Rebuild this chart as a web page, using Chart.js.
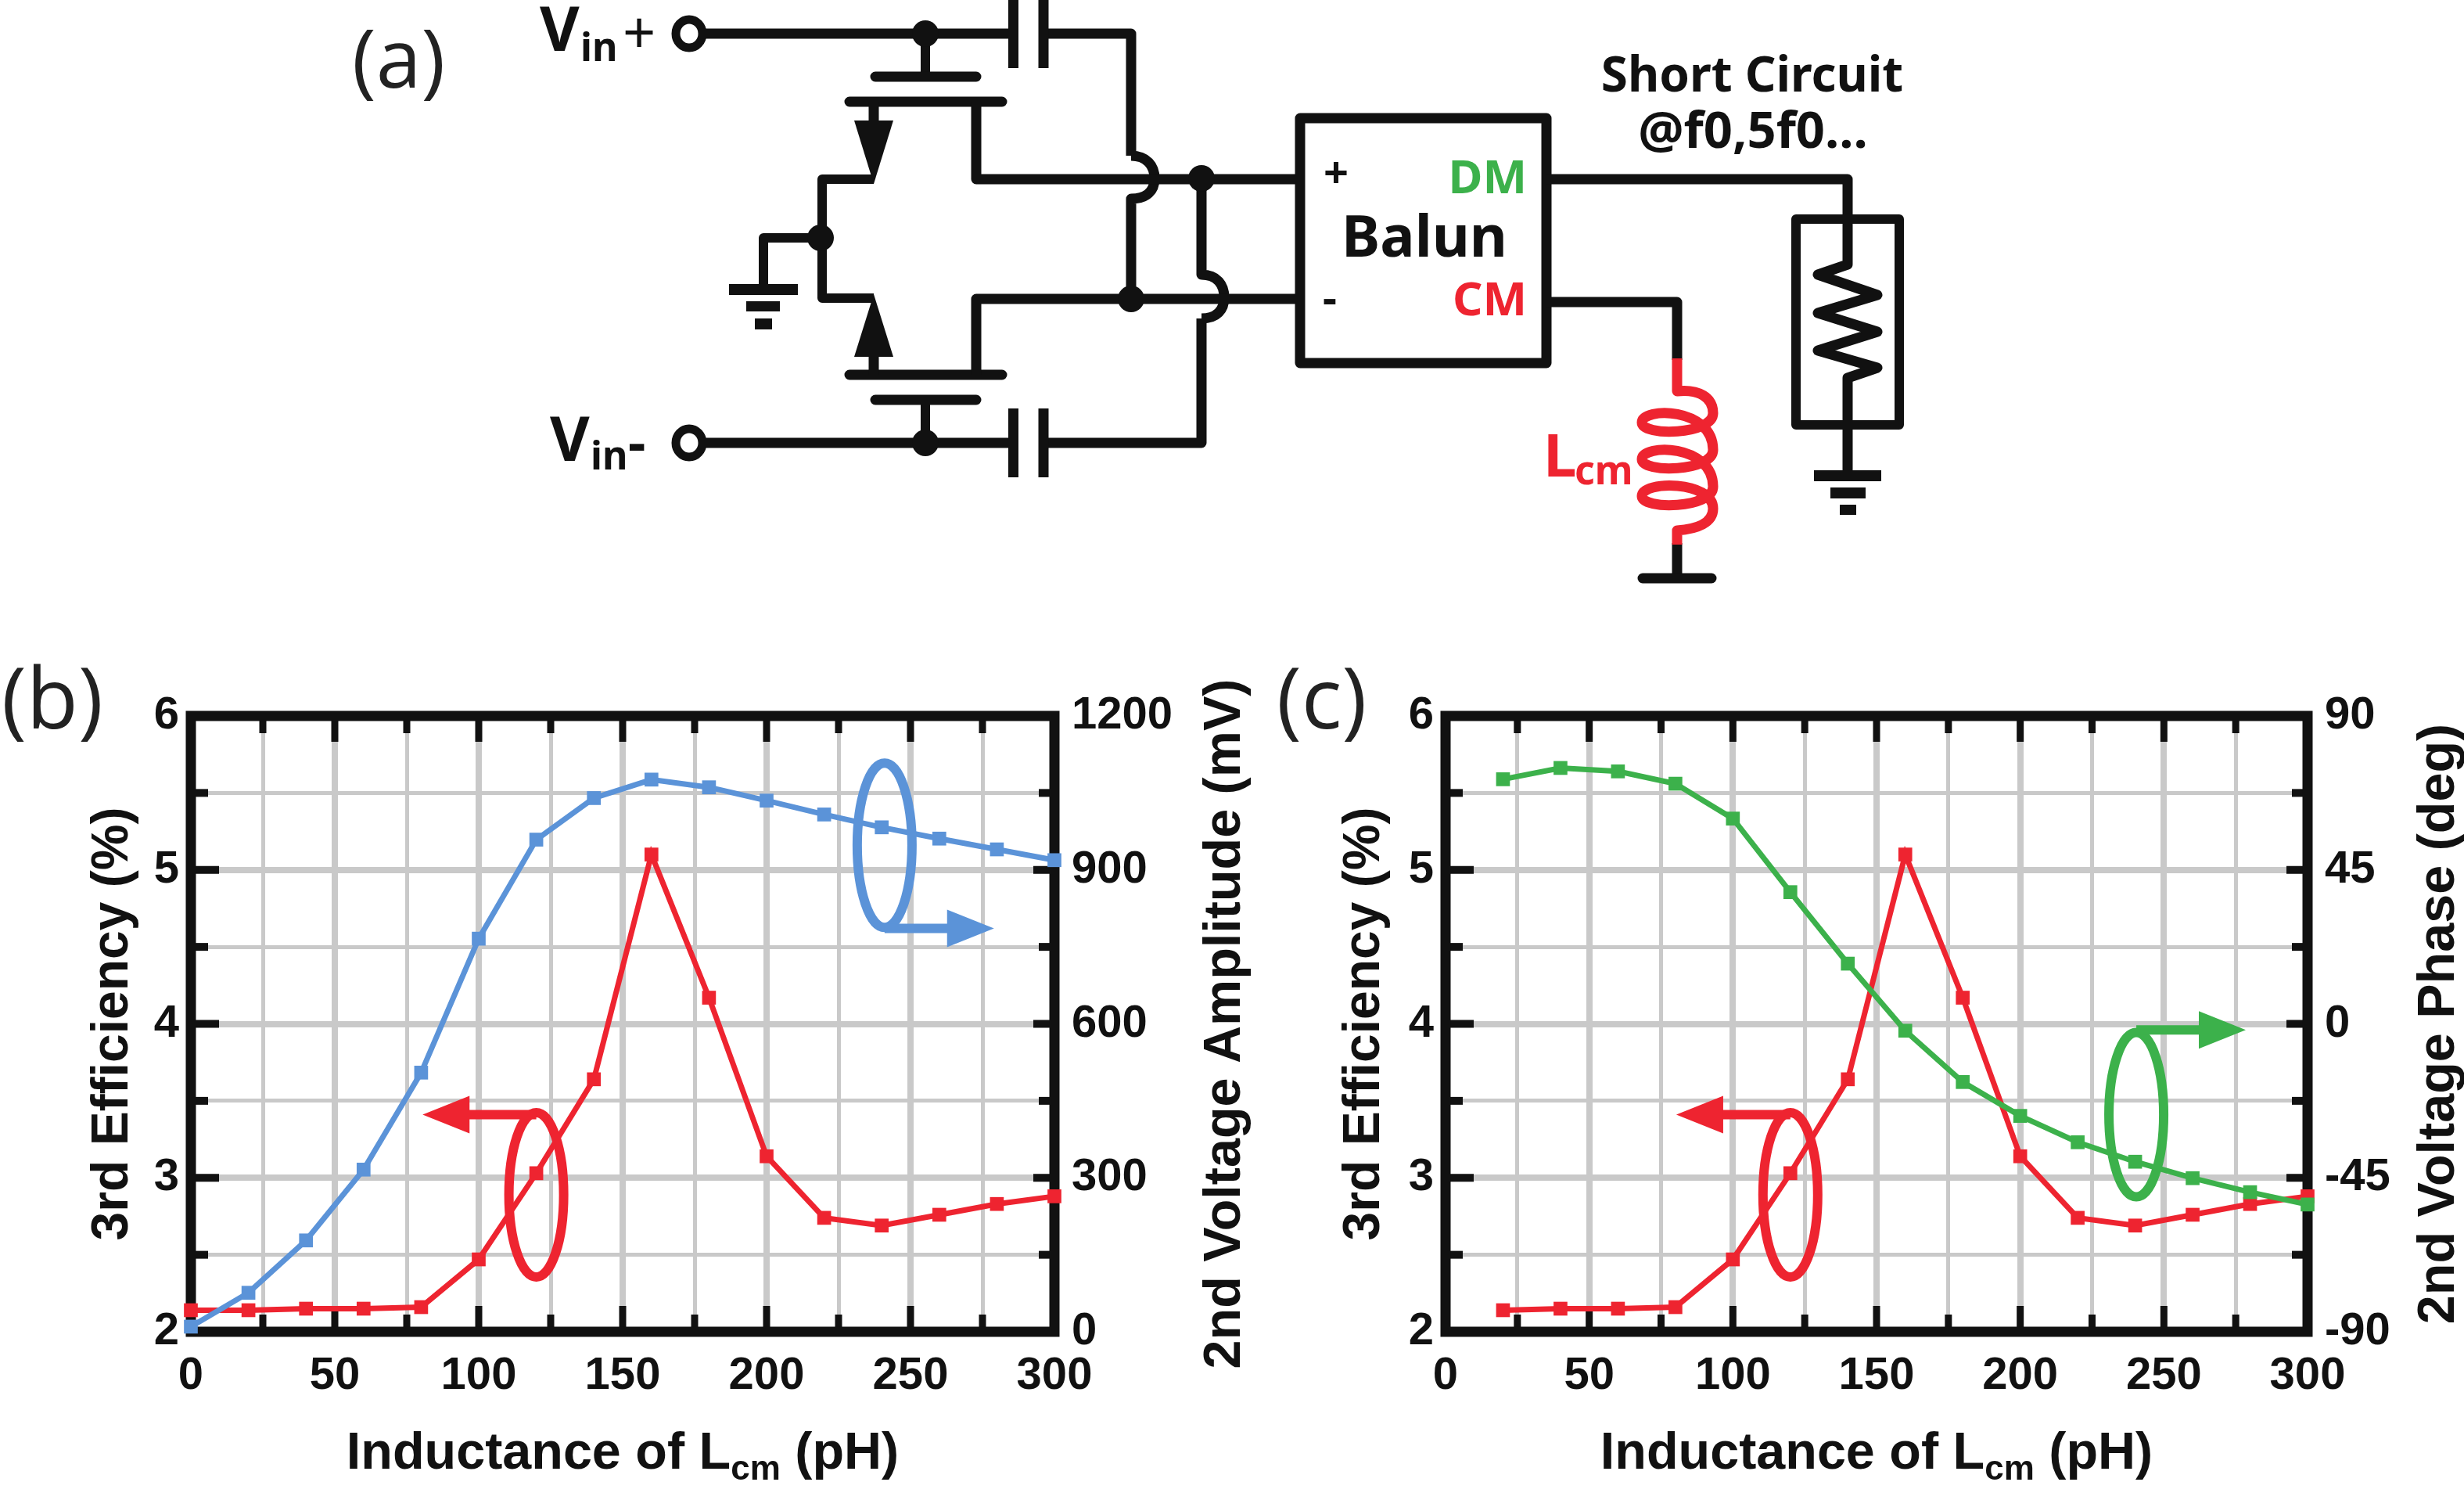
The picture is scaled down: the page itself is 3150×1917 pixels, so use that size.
<!DOCTYPE html>
<html>
<head>
<meta charset="utf-8">
<title>Lcm sweep</title>
<script src="https://cdn.jsdelivr.net/npm/chart.js@4"></script>
<style>
  html, body { margin: 0; padding: 0; background: #fff; }
  body { position: relative; width: 3150px; height: 1917px; overflow: hidden; }
  canvas { position: absolute; top: 840px; }
  #circuit { position: absolute; left: 0; top: 0; }
  #circuit text { font-family: "Noto Sans", sans-serif; font-weight: 700; }
  .panel { position: absolute; font: 400 104px "Open Sans", sans-serif; color: #222; line-height: 1; }
  .panel.big { font-size: 108px; }
</style>
</head>
<body>

<!-- (a) schematic -->
<svg id="circuit" width="3150" height="800" viewBox="0 0 3150 800">
  <g fill="none" stroke="#111" stroke-width="13" stroke-linejoin="round">
    <!-- inputs -->
    <ellipse cx="881" cy="43" rx="17" ry="18" stroke-width="11"/>
    <ellipse cx="881" cy="566" rx="17" ry="18" stroke-width="11"/>
    <path d="M898 43H1295M1334 43H1446V199"/>
    <path d="M898 566H1295M1334 566H1536V407"/>
    <path d="M1295.5 0V87M1334 0V87M1295.5 522V610M1334 522V610"/>
    <!-- cross-coupled wires with jumps -->
    <path d="M1446 199C1466 199 1476 212 1476 228C1476 244 1466 254 1446 254V382"/>
    <path d="M1536 228V351C1556 351 1565 364 1565 380C1565 396 1556 407 1536 407"/>
    <!-- devices -->
    <path d="M1183 43V98M1183 511V566" stroke-width="12"/>
    <path d="M1119 98H1248M1119 511H1248M1086 130H1281M1086 479H1281" stroke-linecap="round"/>
    <path d="M1117 130V160M1117 456V479"/>
    <path d="M1117 229H1051V381H1117" stroke-width="12"/>
    <path d="M1248 130V229H1660M1248 479V382H1660"/>
    <path d="M1049 304H976V364" stroke-width="12"/>
    <!-- balun and outputs -->
    <rect x="1662" y="151" width="315" height="313"/>
    <path d="M1977 229H2362V338L2324 351L2400 377L2324 400L2400 424L2324 448L2400 470L2362 483V608"/>
    <rect x="2296" y="280" width="132" height="263" stroke-width="12"/>
    <path d="M1977 386H2144V460"/>
    <path d="M2144 694V739"/>
    <path d="M2100 739H2188" stroke-linecap="round"/>
    <path stroke="#ee2430" d="M2144 458V500C2172 497 2190 508 2190 528C2190 556 2099 558 2099 540C2099 520 2190 520 2190 575C2190 603 2099 605 2099 587C2099 567 2190 567 2190 622C2190 650 2099 652 2099 634C2099 614 2190 614 2190 650C2190 668 2170 676 2144 678V696"/>
  </g>
  <g fill="#111" stroke="none">
    <ellipse cx="1183" cy="43" rx="17" ry="17"/>
    <ellipse cx="1183" cy="566" rx="17" ry="17"/>
    <ellipse cx="1536" cy="228" rx="17" ry="17"/>
    <ellipse cx="1446" cy="382" rx="17" ry="17"/>
    <ellipse cx="1049" cy="304" rx="17" ry="17"/>
    <path d="M1092 154H1142L1117 235Z"/>
    <path d="M1092 456H1142L1117 376Z"/>
    <path d="M932 363H1020V377H932ZM954 385H997V398H954ZM965 407H987V421H965Z"/>
    <path d="M2319 601H2405V615H2319ZM2340 623H2385V637H2340ZM2352 645H2373V658H2352Z"/>
  </g>
  <text x="690" y="65" font-size="78" fill="#111">V</text>
  <text x="742" y="78" font-size="50" fill="#111">in</text>
  <text x="796" y="68" font-size="74" fill="#111" style="font-weight:400">+</text>
  <text x="703" y="589" font-size="78" fill="#111">V</text>
  <text x="755" y="600" font-size="50" fill="#111">in</text>
  <text x="803" y="590" font-size="70" fill="#111">-</text>
  <text x="1821" y="328" font-size="74" fill="#111" text-anchor="middle">Balun</text>
  <text x="1708" y="240" font-size="56" fill="#111" text-anchor="middle">+</text>
  <text x="1700" y="400" font-size="56" fill="#111" text-anchor="middle">-</text>
  <text x="1952" y="247" font-size="60" fill="#3cb14b" text-anchor="end">DM</text>
  <text x="1952" y="403" font-size="60" fill="#ee2430" text-anchor="end">CM</text>
  <text x="2240" y="117" font-size="62" fill="#111" text-anchor="middle">Short Circuit</text>
  <text x="2241" y="189" font-size="65" fill="#111" text-anchor="middle">@f0,5f0...</text>
  <text x="1973" y="609" font-size="76" fill="#ee2430">L</text>
  <text x="2013" y="619" font-size="50" fill="#ee2430">cm</text>
</svg>

<div class="panel" style="left:450px;top:20px">(a)</div>
<div class="panel big" style="left:2px;top:836px">(b)</div>
<div class="panel big" style="left:1632px;top:836px">(c)</div>

<canvas id="chartB" width="1600" height="1077" style="left:0"></canvas>
<canvas id="chartC" width="1550" height="1077" style="left:1600px"></canvas>

<script>
// values
const inductance = [0, 20, 40, 60, 80, 100, 120, 140, 160, 180, 200, 220, 240, 260, 280, 300];
const inductanceC = inductance.slice(1);
const efficiency = [2.14, 2.14, 2.15, 2.15, 2.16, 2.47, 3.03, 3.64, 5.10, 4.17, 3.14, 2.74, 2.69, 2.76, 2.83, 2.88];
const amplitude = [10, 76, 178, 316, 505, 766, 959, 1040, 1076, 1061, 1035, 1008, 983, 961, 940, 919];
const phase = [71.5, 74.8, 73.8, 70.2, 60.0, 38.5, 17.6, -2, -17, -26.9, -34.6, -40.3, -45.1, -49.2, -52.8];
const amplitudeTicks = [0, 300, 600, 900, 1200];
const phaseTicks = [-90, -45, 0, 45, 90];

const RED = '#ee2430';
const BLUE = '#5b93d8';
const GREEN = '#3cb14b';
const INK = '#111';
const FONT = '"Liberation Sans", Arial, sans-serif';

function toPoints(xs, ys) {
  return xs.map((x, i) => ({ x, y: ys[i] }));
}

function lineSet(data, color, axis) {
  return {
    data,
    yAxisID: axis,
    borderColor: color,
    backgroundColor: color,
    borderWidth: 7,
    pointStyle: 'rect',
    pointRadius: 12.5,
    pointBorderWidth: 0,
    tension: 0,
    clip: false,
  };
}

// inward ticks, frame, ring + arrow callouts and the titles Chart.js can't set
// (right title reads bottom-to-top, x title has a subscript)
const figureDecor = {
  id: 'figureDecor',
  beforeDatasetsDraw(chart) {
    const { ctx, chartArea: a, scales } = chart;
    ctx.save();
    ctx.fillStyle = INK;
    scales.x.ticks.forEach((t) => {
      const px = scales.x.getPixelForValue(t.value);
      const len = t.value % 50 === 0 ? 33 : 22;
      ctx.fillRect(px - 4.5, a.top, 9, len);
      ctx.fillRect(px - 4.5, a.bottom - len, 9, len);
    });
    scales.y.ticks.forEach((t) => {
      const py = scales.y.getPixelForValue(t.value);
      const major = Number.isInteger(t.value);
      ctx.fillRect(a.left, py - 5, major ? 36 : 22, 10);
      ctx.fillRect(a.right - (major ? 27 : 20), py - 5, major ? 27 : 20, 10);
    });
    ctx.strokeStyle = INK;
    ctx.lineWidth = 13;
    ctx.strokeRect(a.left, a.top, a.right - a.left, a.bottom - a.top);
    ctx.restore();
  },
  afterDatasetsDraw(chart, args, opts) {
    const { ctx, chartArea: a, scales } = chart;
    ctx.save();
    opts.callouts.forEach((c) => {
      const cx = scales.x.getPixelForValue(c.x);
      const cy = scales.y.getPixelForValue(c.y);
      const ay = scales.y.getPixelForValue(c.arrowY);
      const tip = scales.x.getPixelForValue(c.arrowTo);
      const dir = tip < cx ? -1 : 1;
      ctx.strokeStyle = c.color;
      ctx.fillStyle = c.color;
      ctx.lineWidth = 12;
      ctx.beginPath();
      ctx.ellipse(cx, cy, 35, 105, 0, 0, Math.PI * 2);
      ctx.stroke();
      ctx.beginPath();
      ctx.moveTo(cx, ay);
      ctx.lineTo(tip - dir * 58, ay);
      ctx.stroke();
      ctx.beginPath();
      ctx.moveTo(tip, ay);
      ctx.lineTo(tip - dir * 60, ay - 24);
      ctx.lineTo(tip - dir * 60, ay + 24);
      ctx.closePath();
      ctx.fill();
    });

    ctx.fillStyle = INK;
    ctx.textBaseline = 'alphabetic';
    ctx.textAlign = 'left';
    // x title
    const main = `bold ${opts.titleSize}px ${FONT}`;
    const sub = `bold ${Math.round(opts.titleSize * 0.66)}px ${FONT}`;
    const parts = [['Inductance of L', main, 0], ['cm', sub, 14], [' (pH)', main, 0]];
    const widths = parts.map((p) => { ctx.font = p[1]; return ctx.measureText(p[0]).width; });
    let x = (a.left + a.right) / 2 - widths.reduce((s, w) => s + w, 0) / 2;
    parts.forEach((p, i) => {
      ctx.font = p[1];
      ctx.fillText(p[0], x, 1037 + p[2]);
      x += widths[i];
    });
    // right title
    ctx.translate(opts.rightTitleX, (a.top + a.bottom) / 2);
    ctx.rotate(-Math.PI / 2);
    ctx.textAlign = 'center';
    ctx.font = main;
    ctx.fillText(opts.rightTitle, 0, 0);
    ctx.restore();
  },
};

function panelChart(id, cfg) {
  const gridWidth = (major) => (c) => (major(c.tick.value) ? 8 : 5);
  return new Chart(document.getElementById(id), {
    type: 'line',
    data: { datasets: cfg.datasets },
    plugins: [figureDecor],
    options: {
      responsive: false,
      animation: false,
      layout: { autoPadding: false, padding: { top: 75, left: 0, right: 0, bottom: 0 } },
      plugins: {
        legend: { display: false },
        tooltip: { enabled: false },
        figureDecor: {
          callouts: cfg.callouts,
          rightTitle: cfg.rightTitle,
          rightTitleX: cfg.rightTitleX,
          titleSize: 66.5,
        },
      },
      scales: {
        x: {
          type: 'linear',
          min: 0,
          max: 300,
          afterFit: (s) => { s.height = 215; },
          border: { display: false },
          grid: { color: '#c9c9c9', lineWidth: gridWidth((v) => v % 50 === 0), drawTicks: false },
          ticks: {
            stepSize: 25,
            autoSkip: false,
            maxRotation: 0,
            padding: 22,
            color: INK,
            font: { family: FONT, size: 58, weight: 'bold' },
            callback: (v) => (v % 50 === 0 ? String(v) : ''),
          },
        },
        y: {
          position: 'left',
          min: 2,
          max: 6,
          afterFit: (s) => { s.width = cfg.leftWidth; },
          border: { display: false },
          grid: { color: '#c9c9c9', lineWidth: gridWidth((v) => Number.isInteger(v)), drawTicks: false },
          title: {
            display: true,
            text: '3rd Efficiency (%)',
            color: INK,
            font: { family: FONT, size: 66, weight: 'bold' },
            padding: { top: cfg.leftTitlePad },
          },
          ticks: {
            stepSize: 0.5,
            autoSkip: false,
            padding: 15,
            color: INK,
            font: { family: FONT, size: 58, weight: 'bold' },
            callback: (v) => (Number.isInteger(v) ? String(v) : ''),
          },
        },
        right: {
          position: 'right',
          min: cfg.rightTicks[0],
          max: cfg.rightTicks[cfg.rightTicks.length - 1],
          afterFit: (s) => { s.width = cfg.rightWidth; },
          afterBuildTicks: (s) => { s.ticks = cfg.rightTicks.map((value) => ({ value })); },
          border: { display: false },
          grid: { display: false, drawTicks: false },
          ticks: {
            autoSkip: false,
            padding: 22,
            color: INK,
            font: { family: FONT, size: 58, weight: 'bold' },
            callback: (v) => String(v),
          },
        },
      },
    },
  });
}

panelChart('chartB', {
  leftWidth: 244,
  rightWidth: 252,
  leftTitlePad: 105,
  rightTicks: amplitudeTicks,
  rightTitle: '2nd Voltage Amplitude (mV)',
  rightTitleX: 1585,
  datasets: [
    lineSet(toPoints(inductance, amplitude), BLUE, 'right'),
    lineSet(toPoints(inductance, efficiency), RED, 'y'),
  ],
  callouts: [
    { x: 120, y: 2.89, arrowY: 3.41, arrowTo: 80.5, color: RED },
    { x: 241, y: 5.16, arrowY: 4.62, arrowTo: 279, color: BLUE },
  ],
});

panelChart('chartC', {
  leftWidth: 248,
  rightWidth: 200,
  leftTitlePad: 105,
  rightTicks: phaseTicks,
  rightTitle: '2nd Voltage Phase (deg)',
  rightTitleX: 1537,
  datasets: [
    lineSet(toPoints(inductanceC, phase), GREEN, 'right'),
    lineSet(toPoints(inductanceC, efficiency.slice(1)), RED, 'y'),
  ],
  callouts: [
    { x: 120, y: 2.89, arrowY: 3.41, arrowTo: 80.3, color: RED },
    { x: 240.4, y: 3.41, arrowY: 3.96, arrowTo: 278.5, color: GREEN },
  ],
});
</script>
</body>
</html>
